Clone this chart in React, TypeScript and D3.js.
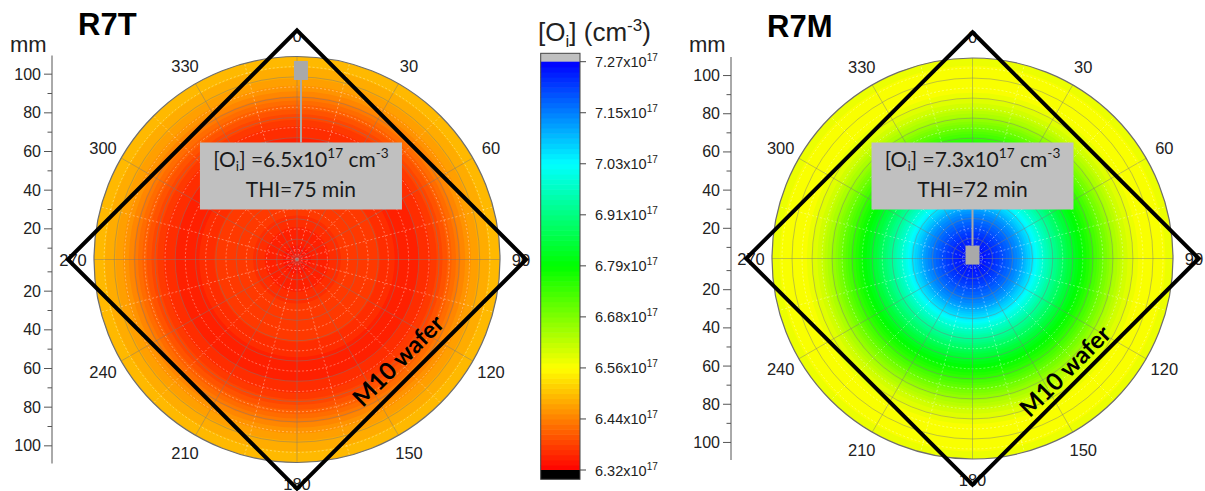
import React from 'react';
import * as d3 from 'd3';

// ---------------- DATA ----------------
const RADII_MM = [0, 5, 10, 15, 20, 25, 30, 35, 40, 45, 50, 55, 60, 65, 70, 75, 80, 85, 90, 95, 100, 105];
// [Oi] radial profile (x10^17 cm^-3)
const R7T_OI = [6.338, 6.342, 6.346, 6.352, 6.362, 6.372, 6.376, 6.376, 6.372, 6.364, 6.356, 6.352, 6.352, 6.358, 6.37, 6.39, 6.415, 6.442, 6.463, 6.478, 6.488, 6.495];
const R7M_OI = [7.262, 7.255, 7.235, 7.205, 7.17, 7.125, 7.07, 7.01, 6.955, 6.905, 6.855, 6.81, 6.77, 6.725, 6.68, 6.635, 6.6, 6.575, 6.56, 6.558, 6.567, 6.58];

const ANGLE_TICKS = [0, 30, 60, 90, 120, 150, 180, 210, 240, 270, 300, 330];
const MM_TICKS_MAJOR = [20, 40, 60, 80, 100];
const MM_TICKS_MINOR = [10, 30, 50, 70, 90];
const CBAR_TICK_VALUES = [6.32, 6.43875, 6.5575, 6.67625, 6.795, 6.91375, 7.0325, 7.15125, 7.27];
const CBAR_TICK_LABELS = ['6.32', '6.44', '6.56', '6.68', '6.79', '6.91', '7.03', '7.15', '7.27'];
const RAINBOW_STOPS = [6.32, 6.5575, 6.795, 7.0325, 7.27];
const RAINBOW_COLORS = ['#ff0000', '#ffff00', '#00ff00', '#00ffff', '#0000ff'];

const OI_MIN = 6.32;
const OI_MAX = 7.27;
const N_LEVELS = 80;
const R_MAX_MM = 105;
const GRID_STEP_MM = 10.5;
const WAFER_HALF_DIAG_MM = 118.5;

const R7T_LABEL = { oi: '6.5', thi: '75' };
const R7M_LABEL = { oi: '7.3', thi: '72' };
const R7T_MARKER = { theta: 1.2, r: 97.8 };
const R7M_MARKER = { theta: 0, r: 1.8 };

// ---------------- STYLE ----------------
const ARIAL = "'Liberation Sans', Arial, sans-serif";
const CAL = "Lato, 'Open Sans', sans-serif";
const W = 1205;
const H = 491;

const rainbow = d3.scaleLinear<string>().domain(RAINBOW_STOPS).range(RAINBOW_COLORS).interpolate(d3.interpolateRgb);
const STEP = (OI_MAX - OI_MIN) / N_LEVELS;
const levelColor = (v: number) => {
  if (v >= OI_MAX) return '#c0c0c0';
  if (v < OI_MIN) return '#000000';
  const i = Math.min(N_LEVELS - 1, Math.floor((v - OI_MIN) / STEP));
  return rainbow(OI_MIN + (i + 0.5) * STEP);
};

function OiText({ x, y, value, fs }: any) {
  const s = fs * 0.65;
  const sub = fs * 0.22;
  const sup = fs * 0.4;
  return (
    <text x={x} y={y} textAnchor="middle" fontSize={fs} fontFamily={CAL} fill="#1a1a1a">
      <tspan>[O</tspan>
      <tspan fontSize={s} dy={sub}>i</tspan>
      <tspan dy={-sub}>] ={value}x10</tspan>
      <tspan fontSize={s} dy={-sup}>17</tspan>
      <tspan dy={sup}> cm</tspan>
      <tspan fontSize={s} dy={-sup}>-3</tspan>
    </text>
  );
}

function Polar({ cfg, values, label, marker }: any) {
  const { cx, cy, R, axisX, title, titleX, titleY, waferAlong, waferPerp, boxTopOff } = cfg;
  const r = d3.scaleLinear().domain([0, R_MAX_MM]).range([0, R]);
  const prof = d3.scaleLinear().domain(RADII_MM).range(values).clamp(true);
  const pt = (deg: number, rad: number): [number, number] => [
    cx + rad * Math.sin((deg * Math.PI) / 180),
    cy - rad * Math.cos((deg * Math.PI) / 180),
  ];

  // colour bands
  const runs: { r0: number; r1: number; color: string }[] = [];
  const dr = 0.25;
  for (let m = 0; m < R_MAX_MM - 1e-9; m += dr) {
    const c = levelColor(prof(m + dr / 2));
    const last = runs[runs.length - 1];
    if (last && last.color === c) last.r1 = m + dr;
    else runs.push({ r0: m, r1: m + dr, color: c });
  }
  const discs = runs.slice().sort((a, b) => b.r1 - a.r1);

  const gridMajor = d3.range(GRID_STEP_MM, R_MAX_MM - 1, GRID_STEP_MM);
  const gridMinor = d3.range(GRID_STEP_MM / 2, R_MAX_MM - 1, GRID_STEP_MM);
  const minorAngles = d3.range(15, 360, 30);

  // y axis
  const pxmm = R / R_MAX_MM;
  const upY = (v: number) => cy + 8 - v * pxmm;
  const loY = (v: number) => cy - 7 + v * pxmm;

  // diamond
  const d = r(WAFER_HALF_DIAG_MM);
  const dPts = [0, 90, 180, 270].map((a) => pt(a, d));
  const diamond = d3.line()(dPts) + 'Z';
  const mid: [number, number] = [(dPts[1][0] + dPts[2][0]) / 2, (dPts[1][1] + dPts[2][1]) / 2];
  const s2 = Math.SQRT1_2;
  const wx = mid[0] - waferAlong * s2 - waferPerp * s2;
  const wy = mid[1] + waferAlong * s2 - waferPerp * s2;

  // marker & box
  const [mx, my] = pt(marker.theta, r(marker.r));
  const boxW = 202;
  const boxH = 67;
  const boxTop = cy + boxTopOff;
  const boxX = mx - boxW / 2;
  const mW = 14;
  const mH = 19;
  const lineY1 = my > boxTop + boxH ? my - mH / 2 : my + mH / 2;
  const lineY2 = my > boxTop + boxH ? boxTop + boxH : boxTop;

  return (
    <g>
      {/* field */}
      {discs.map((b, i) => (
        <circle key={i} cx={cx} cy={cy} r={r(b.r1)} fill={b.color} />
      ))}
      {/* minor grid (white dashed) */}
      {gridMinor.map((g, i) => (
        <circle key={'wm' + i} cx={cx} cy={cy} r={r(g)} fill="none" stroke="#ffffff" strokeOpacity={0.45} strokeWidth={0.8} strokeDasharray="2,2" />
      ))}
      {minorAngles.map((a) => {
        const [x2, y2] = pt(a, R);
        return <line key={'wa' + a} x1={cx} y1={cy} x2={x2} y2={y2} stroke="#ffffff" strokeOpacity={0.45} strokeWidth={0.8} strokeDasharray="2,2" />;
      })}
      {/* major grid */}
      {gridMajor.map((g, i) => (
        <circle key={'gm' + i} cx={cx} cy={cy} r={r(g)} fill="none" stroke="#7a7a7a" strokeOpacity={0.45} strokeWidth={1} />
      ))}
      {ANGLE_TICKS.map((a) => {
        const [x2, y2] = pt(a, R);
        return <line key={'ga' + a} x1={cx} y1={cy} x2={x2} y2={y2} stroke="#7a7a7a" strokeOpacity={0.45} strokeWidth={1} />;
      })}
      <circle cx={cx} cy={cy} r={R} fill="none" stroke="#6e6e6e" strokeWidth={1.2} />
      {/* angle labels */}
      {ANGLE_TICKS.map((a) => {
        const [x, y] = pt(a, R + 21);
        return (
          <text key={'al' + a} x={x} y={y} textAnchor="middle" dominantBaseline="central" fontSize={16.5} fontFamily={ARIAL} fill="#222">
            {a}
          </text>
        );
      })}
      {/* y axis */}
      <line x1={axisX} x2={axisX} y1={cy - R - 1} y2={cy + R + 1} stroke="#555" strokeWidth={1} />
      {MM_TICKS_MAJOR.map((v) => (
        <g key={'ym' + v}>
          <line x1={axisX - 8} x2={axisX} y1={upY(v)} y2={upY(v)} stroke="#555" />
          <line x1={axisX - 8} x2={axisX} y1={loY(v)} y2={loY(v)} stroke="#555" />
          <text x={axisX - 11} y={upY(v)} textAnchor="end" dominantBaseline="central" fontSize={16} fontFamily={ARIAL} fill="#222">{v}</text>
          <text x={axisX - 11} y={loY(v)} textAnchor="end" dominantBaseline="central" fontSize={16} fontFamily={ARIAL} fill="#222">{v}</text>
        </g>
      ))}
      {MM_TICKS_MINOR.map((v) => (
        <g key={'yn' + v}>
          <line x1={axisX - 4.5} x2={axisX} y1={upY(v)} y2={upY(v)} stroke="#555" />
          <line x1={axisX - 4.5} x2={axisX} y1={loY(v)} y2={loY(v)} stroke="#555" />
        </g>
      ))}
      <text x={axisX - 42} y={52} fontSize={22} fontFamily={ARIAL} fill="#222">mm</text>
      {/* wafer */}
      <path d={diamond} fill="none" stroke="#000" strokeWidth={4} strokeLinejoin="miter" />
      <text x={wx} y={wy} transform={`rotate(-45 ${wx} ${wy})`} textAnchor="middle" dominantBaseline="central" fontSize={24} fontWeight={700} fontFamily={CAL} fill="#000">
        M10 wafer
      </text>
      {/* marker + label */}
      <line x1={mx} x2={mx} y1={lineY1} y2={lineY2} stroke="#a9a9a9" strokeWidth={2} />
      <rect x={mx - mW / 2} y={my - mH / 2} width={mW} height={mH} fill="#a9a9a9" />
      <rect x={boxX} y={boxTop} width={boxW} height={boxH} fill="#c0c0c0" />
      <OiText x={mx} y={boxTop + 24} value={label.oi} fs={21} />
      <text x={mx} y={boxTop + 54} textAnchor="middle" fontSize={21} fontFamily={CAL} fill="#1a1a1a">THI={label.thi} min</text>
      {/* title */}
      <text x={titleX} y={titleY} fontSize={31} fontWeight={700} fontFamily={ARIAL} fill="#000">{title}</text>
    </g>
  );
}

function ColorBar() {
  const x0 = 540.7;
  const x1 = 580;
  const y = d3.scaleLinear().domain([OI_MIN, OI_MAX]).range([470, 61.7]);
  const bands = d3.range(N_LEVELS);
  return (
    <g>
      <rect x={x0} y={53.3} width={x1 - x0} height={y(OI_MAX) - 53.3 + 0.5} fill="#c0c0c0" />
      {bands.map((i) => {
        const v0 = OI_MIN + i * STEP;
        const ya = y(v0 + STEP);
        const yb = y(v0);
        return <rect key={i} x={x0} y={ya} width={x1 - x0} height={yb - ya + 0.6} fill={levelColor(v0 + STEP / 2)} />;
      })}
      <rect x={x0} y={y(OI_MIN)} width={x1 - x0} height={479.3 - y(OI_MIN)} fill="#000" />
      <rect x={x0} y={53.3} width={x1 - x0} height={479.3 - 53.3} fill="none" stroke="#444" strokeWidth={1} />
      {CBAR_TICK_VALUES.map((v, i) => (
        <g key={i}>
          <line x1={x1} x2={x1 + 6} y1={y(v)} y2={y(v)} stroke="#444" />
          <text x={595} y={y(v) + 5.5} fontSize={14.5} fontFamily={ARIAL} fill="#222">
            <tspan>{CBAR_TICK_LABELS[i]}x10</tspan>
            <tspan fontSize={10} dy={-6}>17</tspan>
          </text>
        </g>
      ))}
      <text x={594.5} y={41} textAnchor="middle" fontSize={26} fontFamily={ARIAL} fill="#222">
        <tspan>[O</tspan>
        <tspan fontSize={17} dy={6}>i</tspan>
        <tspan dy={-6}>] (cm</tspan>
        <tspan fontSize={17} dy={-10}>-3</tspan>
        <tspan dy={10}>)</tspan>
      </text>
    </g>
  );
}

const LEFT_CFG = { cx: 297, cy: 259.5, R: 203, axisX: 52, title: 'R7T', titleX: 78, titleY: 35, waferAlong: 0, waferPerp: 20, boxTopOff: -117 };
const RIGHT_CFG = { cx: 972.5, cy: 258.5, R: 200.5, axisX: 731, title: 'R7M', titleX: 767, titleY: 37, waferAlong: 14, waferPerp: 16, boxTopOff: -116 };

export default function App() {
  return (
    <svg width={W} height={H} viewBox={`0 0 ${W} ${H}`} style={{ position: 'absolute', left: 0, top: 0, background: '#fff' }}>
      <rect width={W} height={H} fill="#fff" />
      <Polar cfg={LEFT_CFG} values={R7T_OI} label={R7T_LABEL} marker={R7T_MARKER} />
      <Polar cfg={RIGHT_CFG} values={R7M_OI} label={R7M_LABEL} marker={R7M_MARKER} />
      <ColorBar />
    </svg>
  );
}
